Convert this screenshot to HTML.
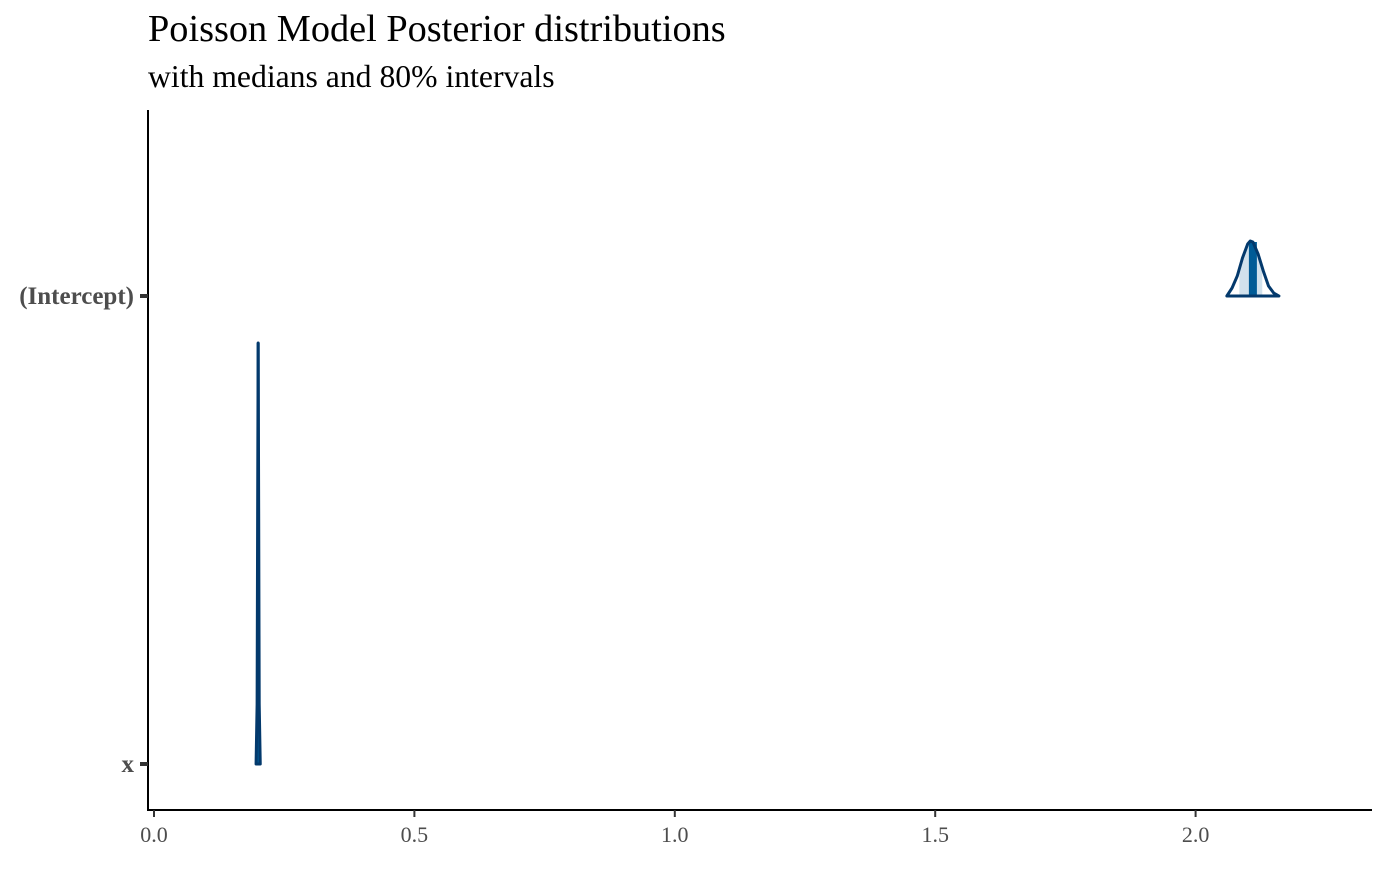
<!DOCTYPE html>
<html><head><meta charset="utf-8"><style>
body{margin:0;background:#fff;}
svg text{font-family:"Liberation Serif",serif;}
</style></head><body>
<svg width="1400" height="865">
<text x="148" y="41" font-size="38.3" fill="#000">Poisson Model Posterior distributions</text>
<text x="148" y="87" font-size="31.7" fill="#000">with medians and 80% intervals</text>
<g id="plot"></g>
</svg>
<script>
const params = ["(Intercept)", "x"];
const interceptX = [2.06,2.07,2.08,2.09,2.10,2.105,2.11,2.12,2.13,2.14,2.15,2.16];
const interceptD = [0,8,20,38,52,55,54,42,25,10,3,0];
const interceptMedian = 2.11;
const interceptInterval = [2.084, 2.128];
const slopeX = [0.196,0.198,0.199,0.2,0.201,0.202,0.204];
const slopeD = [0,60,250,421,250,60,0];
const slopeMedian = 0.2;
const slopeInterval = [0.198, 0.202];
const xTicks = [0.0,0.5,1.0,1.5,2.0];
const xTickLabels = ["0.0","0.5","1.0","1.5","2.0"];

const NS="http://www.w3.org/2000/svg";
const g=document.getElementById('plot');
const sx=v=>154+v*520.8;
const rowY={"(Intercept)":296,"x":764};
function el(t,a){const e=document.createElementNS(NS,t);for(const k in a)e.setAttribute(k,a[k]);g.appendChild(e);return e;}

function density(name,xs,ds,med,iv,key){
  const y0=rowY[name];
  const dAt=v=>{for(let i=0;i<xs.length-1;i++){if(v>=xs[i]&&v<=xs[i+1]){const t=(v-xs[i])/(xs[i+1]-xs[i]);return ds[i]+t*(ds[i+1]-ds[i]);}}return 0;};
  let p="M"+sx(iv[0])+","+y0;
  const n=20;for(let i=0;i<=n;i++){const v=iv[0]+(iv[1]-iv[0])*i/n;p+=" L"+sx(v)+","+(y0-dAt(v));}
  p+=" L"+sx(iv[1])+","+y0+" Z";
  let e=el('path',{d:p,fill:'#d1e1ec',stroke:'none'});
  
  
  const mw=key==='intercept'?8:3;
  e=el('rect',{x:sx(med)-mw/2,y:y0-dAt(med),width:mw,height:dAt(med),fill:'#005b96'});
  
  
  let o="M"+sx(xs[0])+","+y0;
  xs.forEach((v,i)=>{o+=" L"+sx(v)+","+(y0-ds[i]);});
  o+=" L"+sx(xs[xs.length-1])+","+y0+" Z";
  e=el('path',{d:o,fill:'none',stroke:'#03396c',"stroke-width":3,"stroke-linejoin":"round"});
  
  
}
density("(Intercept)",interceptX,interceptD,interceptMedian,interceptInterval,'intercept');
density("x",slopeX,slopeD,slopeMedian,slopeInterval,'slope');

let a=el('line',{x1:148,y1:110,x2:148,y2:811,stroke:'#000','stroke-width':2});

a=el('line',{x1:147,y1:810,x2:1372,y2:810,stroke:'#000','stroke-width':2});

params.forEach(p=>{
  const y=rowY[p];
  let t=el('line',{x1:140,y1:y,x2:148,y2:y,stroke:'#333','stroke-width':4});
  
  t=el('text',{x:134,y:y+8,'font-size':25,'font-weight':'bold','text-anchor':'end',fill:'#4d4d4d'});
  t.textContent=p;
  
});
xTicks.forEach((v,i)=>{
  let t=el('line',{x1:sx(v),y1:810,x2:sx(v),y2:817,stroke:'#333','stroke-width':2});
  
  t=el('text',{x:sx(v),y:842,'font-size':22,'text-anchor':'middle',fill:'#4d4d4d'});
  t.textContent=xTickLabels[i];
  
});
</script>
</body></html>
